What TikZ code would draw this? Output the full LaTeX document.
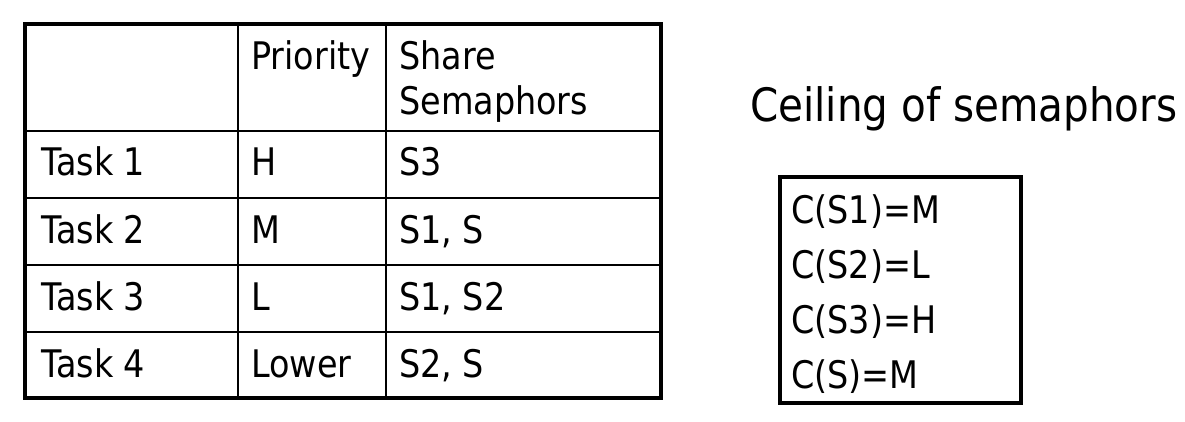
\documentclass[tikz,border=0pt]{standalone}
\usepackage{fontspec}
\setmainfont[FakeStretch=0.88]{DejaVu Sans}

\begin{document}
\begin{tikzpicture}
[x=1pt, y=-1pt,
cell/.style={anchor=base west, inner sep=0pt, font=\fontsize{38}{45}\selectfont},
caption/.style={anchor=base west, inner sep=0pt, font=\fontsize{46}{55}\selectfont},
frame/.style={draw=black, line width=3.5pt},
rule/.style={draw=black, line width=2pt}]
\useasboundingbox (0,0) rectangle (1185,422);

% table rules
\draw[rule] (25,131) -- (661,131);
\draw[rule] (25,198) -- (661,198);
\draw[rule] (25,265) -- (661,265);
\draw[rule] (25,332) -- (661,332);
\draw[rule] (238,24) -- (238,398);
\draw[rule] (386,24) -- (386,398);
\draw[frame] (25,24) rectangle (661,398);

% header
\node[cell] (prio) at (251,70) {Priority};
\node[cell] (share) at (399,70) {Share};
\node[cell] (sema) at (399,115) {Semaphors};

% first row
\node[cell] (task1) at (41,176) {Task 1};
\node[cell] (prio1) at (251,176) {H};
\node[cell] (sem1) at (399,176) {S3};

% second row
\node[cell] (task2) at (41,243) {Task 2};
\node[cell] (prio2) at (251,243) {M};
\node[cell] (sem2) at (399,243) {S1, S};

% third row
\node[cell] (task3) at (41,310) {Task 3};
\node[cell] (prio3) at (251,310) {L};
\node[cell] (sem3) at (399,310) {S1, S2};

% fourth row
\node[cell] (task4) at (41,377) {Task 4};
\node[cell] (prio4) at (251,377) {Lower};
\node[cell] (sem4) at (399,377) {S2, S};

% ceilings
\node[caption] (ceil) at (750,122) {Ceiling of semaphors};
\draw[frame] (780,177) rectangle (1021,403);
\node[cell] (ceil1) at (791,223) {C(S1)=M};
\node[cell] (ceil2) at (791,278) {C(S2)=L};
\node[cell] (ceil3) at (791,333) {C(S3)=H};
\node[cell] (ceil4) at (791,388) {C(S)=M};

\end{tikzpicture}
\end{document}
